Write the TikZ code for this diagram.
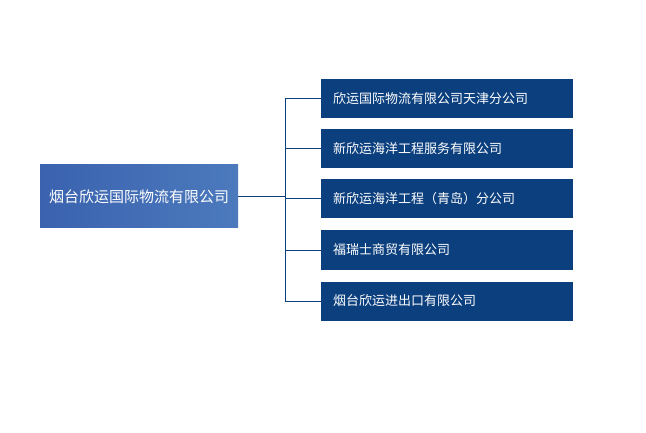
\documentclass[tikz,border=0pt]{standalone}
\usepackage{fontspec}
\setmainfont{Noto Sans CJK SC}
\usetikzlibrary{positioning}
\definecolor{subblue}{HTML}{0B3F7E}
\definecolor{headtop}{HTML}{3A62AF}
\definecolor{headbot}{HTML}{4C7ABD}
\begin{document}
\begin{tikzpicture}[x=1pt,y=-1pt]
	\tikzstyle{subbox}=[fill=subblue,text=white,minimum width=252pt,minimum height=39pt,inner xsep=12pt,text width=228pt,align=left,font=\fontsize{13}{15}\selectfont]
	\tikzstyle{headbox}=[left color=headtop,right color=headbot,text=white,minimum width=198pt,minimum height=63pt,align=center,font=\fontsize{15}{17}\selectfont]
	\tikzstyle{link}=[draw=subblue,line width=0.8pt]
	\useasboundingbox (0,0) rectangle (646,433);
	\node[headbox] (head) at (139,196.5) {烟台欣运国际物流有限公司};
	\coordinate (fork) at (285,196.5);
	\foreach \n / \y / \t in {a/98.5/欣运国际物流有限公司天津分公司,b/148.5/新欣运海洋工程服务有限公司,c/198.5/新欣运海洋工程（青岛）分公司,d/250/福瑞士商贸有限公司,e/301/烟台欣运进出口有限公司} {
		\node[subbox] (\n) at (447,\y) {\t};
		\draw[link] (\n.west) -| (fork);
	}
	\draw[link] (head.east) -- (fork);
\end{tikzpicture}
\end{document}
